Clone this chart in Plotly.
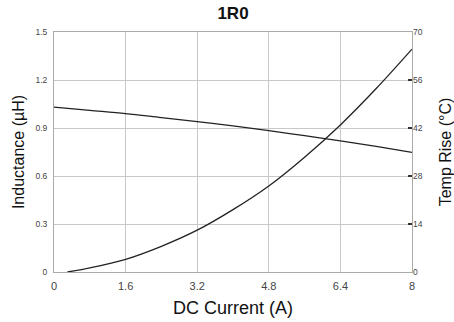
import plotly.graph_objects as go

# DC current sweep (A)
current_l = [0, 0.8, 1.6, 2.4, 3.2, 4.0, 4.8, 5.6, 6.4, 7.2, 8.0]
inductance = [1.03, 1.01, 0.99, 0.965, 0.94, 0.913, 0.883, 0.852, 0.82, 0.785, 0.748]

current_t = [0.3, 0.8, 1.6, 2.4, 3.2, 4.0, 4.8, 5.6, 6.4, 7.2, 8.0]
temp_rise = [0, 1.2, 3.7, 7.5, 12.2, 18.2, 25.1, 33.5, 42.9, 53.5, 65]

x_ticks = [0, 1.6, 3.2, 4.8, 6.4, 8]
y_ticks = [0, 0.3, 0.6, 0.9, 1.2, 1.5]
y2_ticks = [0, 14, 28, 42, 56, 70]

FONT = "Liberation Sans, Arial, sans-serif"
GRID = "#c8c8c8"
LINE = "#222222"

fig = go.Figure()
fig.add_trace(go.Scatter(x=current_l, y=inductance, mode="lines",
                         line=dict(color=LINE, width=1.3, shape="spline"),
                         showlegend=False))
fig.add_trace(go.Scatter(x=current_t, y=temp_rise, mode="lines", yaxis="y2",
                         line=dict(color=LINE, width=1.3, shape="spline"),
                         showlegend=False))

fig.update_layout(
    width=454, height=322,
    margin=dict(l=54, r=42, t=32, b=50, autoexpand=False),
    paper_bgcolor="white", plot_bgcolor="white",
    font=dict(family=FONT, color="#333"),
    title=dict(text="<b>1R0</b>", x=0.5, xref="paper", xanchor="center",
               y=1, yref="container", yanchor="top", pad=dict(t=7),
               font=dict(size=17, color="#111", family=FONT)),
    xaxis=dict(range=[0, 8], tickvals=x_ticks, ticktext=[str(v) for v in x_ticks],
               showgrid=True, gridcolor=GRID, gridwidth=1, automargin=False,
               showline=True, linecolor="#aaaaaa", linewidth=1, mirror=True,
               ticks="", zeroline=False, ticklabelstandoff=4,
               tickfont=dict(size=11, color="#444"),
               title=dict(text="DC Current (A)", font=dict(size=18, color="#111"), standoff=10)),
    yaxis=dict(range=[0, 1.5], tickvals=y_ticks, ticktext=["0", "0.3", "0.6", "0.9", "1.2", "1.5"],
               showgrid=True, gridcolor=GRID, gridwidth=1, automargin=False,
               showline=True, linecolor="#aaaaaa", linewidth=1, mirror=True,
               ticks="", zeroline=False, ticklabelstandoff=4,
               tickfont=dict(size=8.5, color="#444"),
               title=dict(text="Inductance (µH)", font=dict(size=16, color="#111"), standoff=6)),
    yaxis2=dict(range=[0, 70], tickvals=y2_ticks,
                overlaying="y", side="right",
                showgrid=False, zeroline=False, showline=False, automargin=False,
                ticks="inside", ticklen=4, tickwidth=1.5, tickcolor="#333",
                tickfont=dict(size=8.5, color="#444"),
                title=dict(text="Temp Rise (°C)", font=dict(size=16, color="#111"), standoff=18)),
)

fig.write_html("out.html")
